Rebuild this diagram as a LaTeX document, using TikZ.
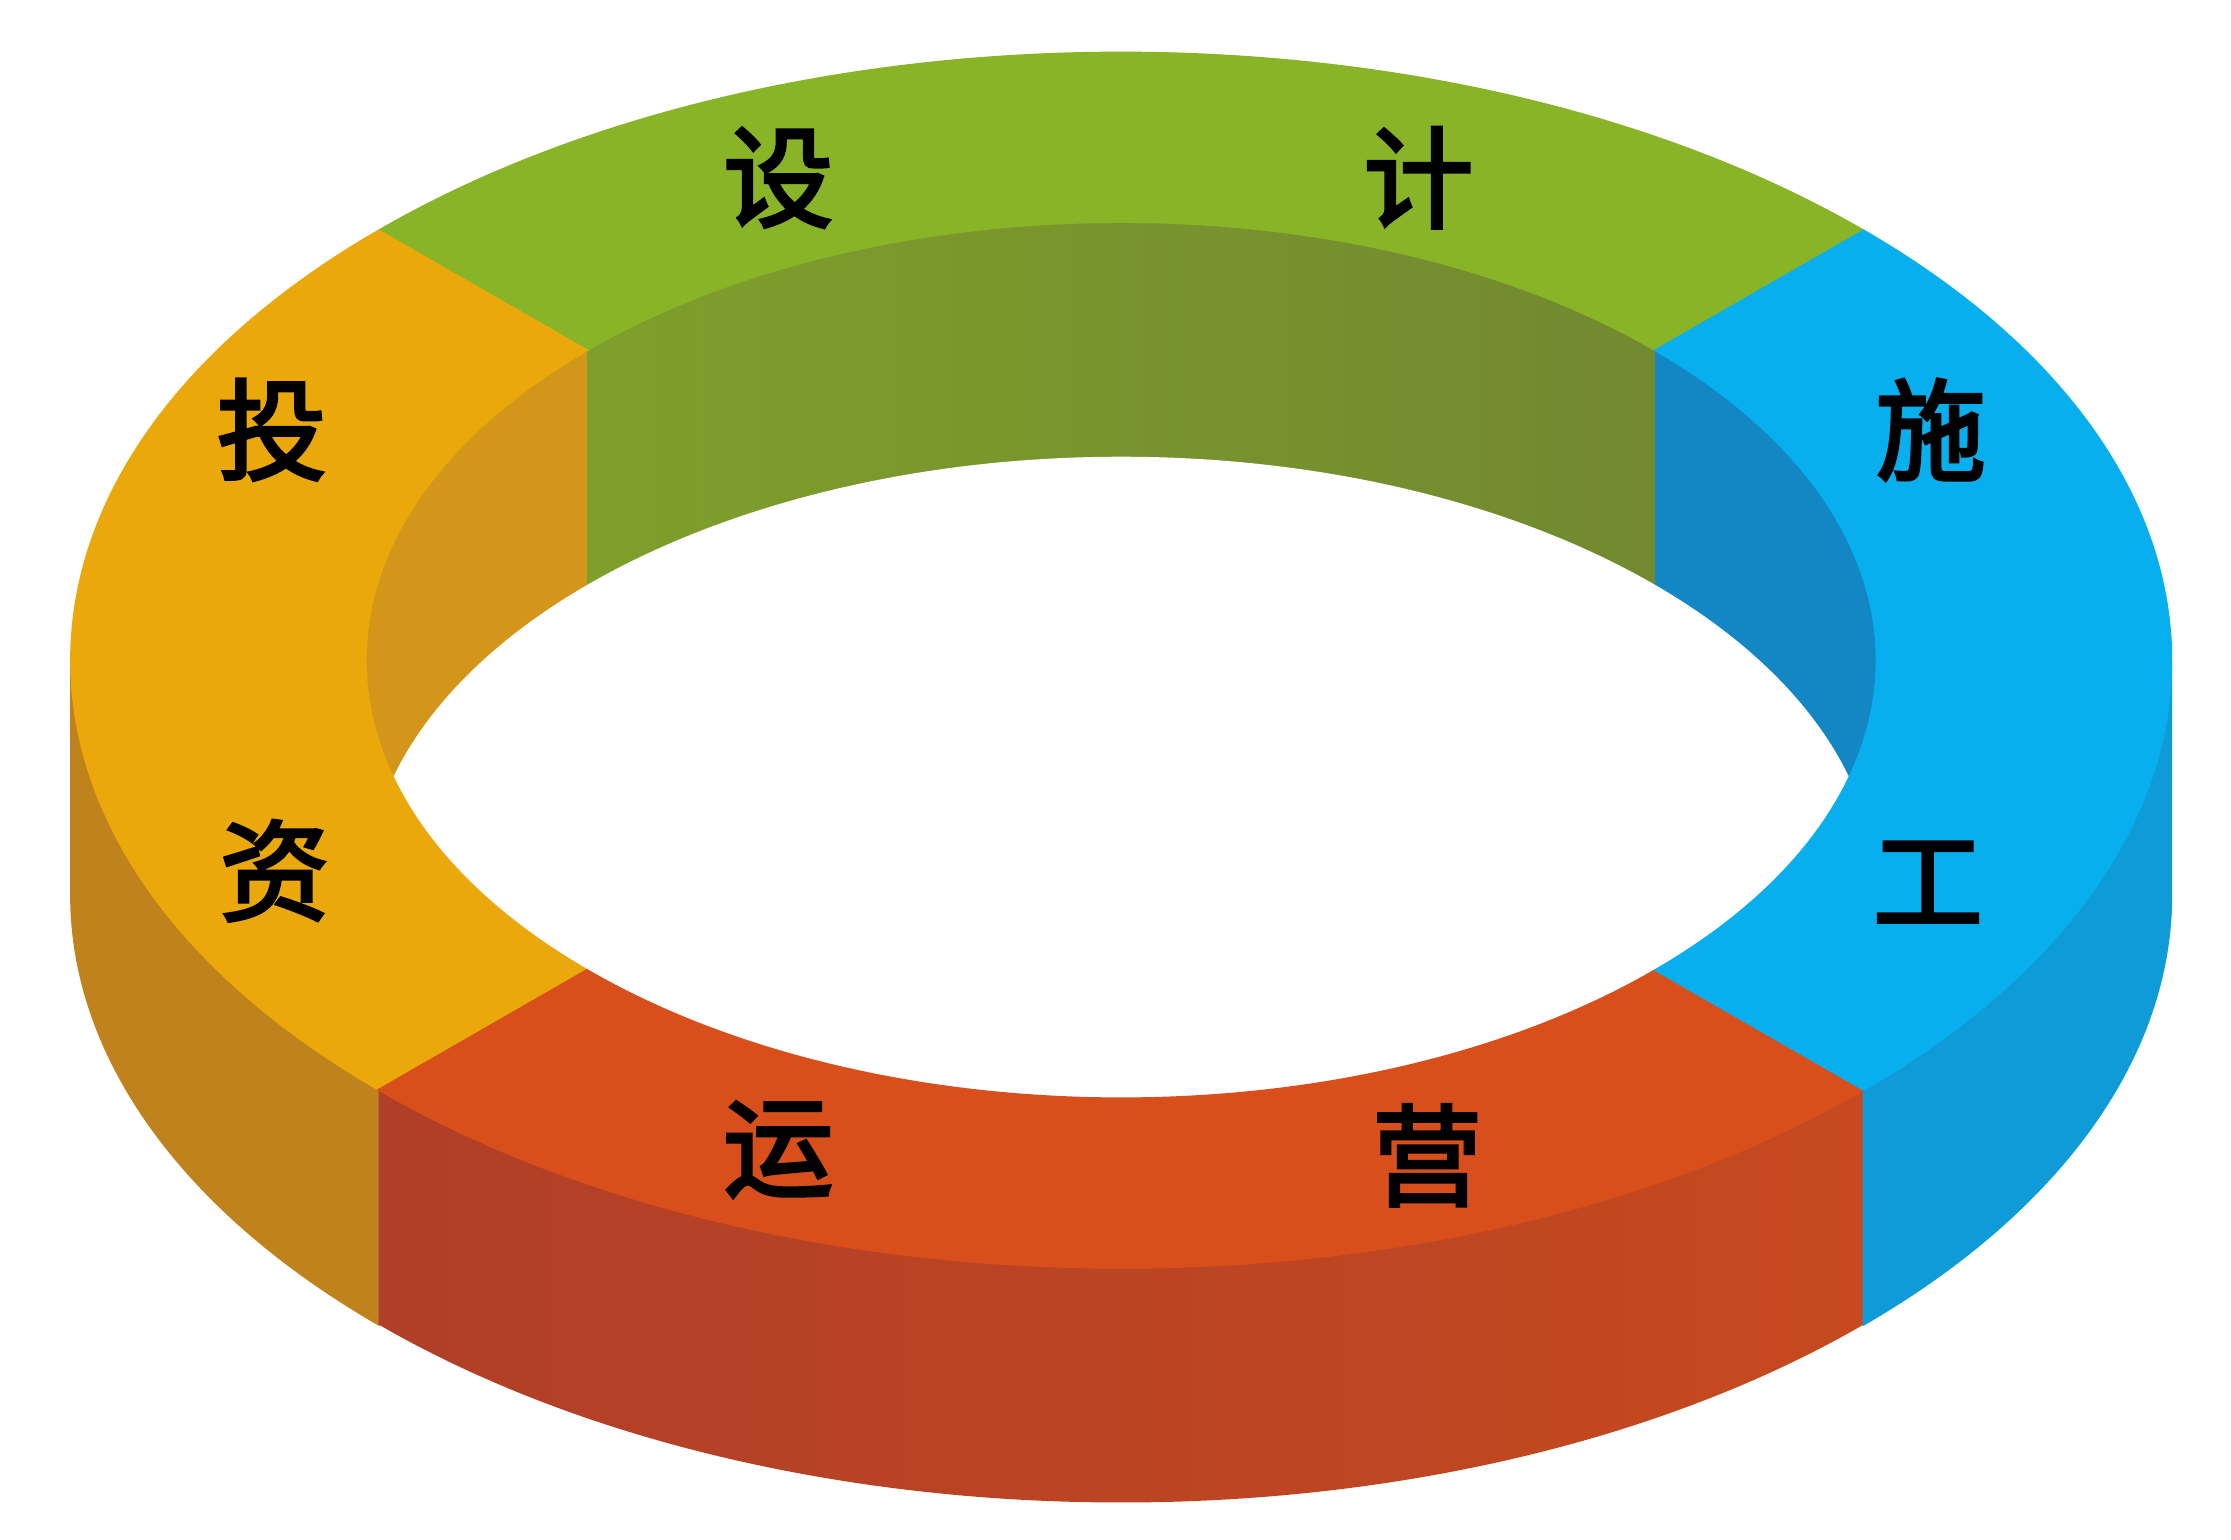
\documentclass[tikz,border=0pt]{standalone}
\usepackage{fontspec}
\newfontfamily\cjk[FakeBold=3]{Noto Sans CJK SC}
\usepackage{xcolor}
\usetikzlibrary{positioning}

\definecolor{greenTop}{HTML}{8AB427}
\definecolor{greenInL}{HTML}{7E9F2B}
\definecolor{greenInR}{HTML}{728930}
\definecolor{blueTop}{HTML}{07AFEE}
\definecolor{blueIn}{HTML}{1386C4}
\definecolor{blueSide}{HTML}{0E9BD8}
\definecolor{redTop}{HTML}{D84F1C}
\definecolor{redSideL}{HTML}{B03F28}
\definecolor{redSideR}{HTML}{C6491F}
\definecolor{yellowTop}{HTML}{EBA80A}
\definecolor{yellowIn}{HTML}{D4961A}
\definecolor{yellowSide}{HTML}{BF821C}

\begin{document}
\begin{tikzpicture}[x=0.01cm, y=0.01cm,
    word/.style={font=\cjk\fontsize{22}{22}\selectfont, inner sep=0pt, text=black}]

    \useasboundingbox (-788,-618) rectangle (780,464);

    % --- Outer side wall (front half) ---
    \filldraw[yellowSide] (180:738 and 427) arc[start angle=180, end angle=225, x radius=738, y radius=427]
        -- ++(0,-165) arc[start angle=225, end angle=180, x radius=738, y radius=427] -- cycle;
    \shade[left color=redSideL, right color=redSideR] (225:738 and 427) arc[start angle=225, end angle=315, x radius=738, y radius=427]
        -- ++(0,-165) arc[start angle=315, end angle=225, x radius=738, y radius=427] -- cycle;
    \filldraw[blueSide] (315:738 and 427) arc[start angle=315, end angle=360, x radius=738, y radius=427]
        -- ++(0,-165) arc[start angle=360, end angle=315, x radius=738, y radius=427] -- cycle;

    % --- Inner wall seen through the hole ---
    \begin{scope}
        \clip (0,0) ellipse [x radius=531, y radius=308];
        \fill[yellowIn] (-600,-400) rectangle (-375.5,400);
        \shade[left color=greenInL, right color=greenInR] (-375.5,-400) rectangle (375.5,400);
        \fill[blueIn] (375.5,-400) rectangle (600,400);
        % hole
        \fill[white] (0,-165) ellipse [x radius=531, y radius=308];
    \end{scope}

    % --- Top face segments ---
    \filldraw[greenTop] (45:738 and 427) arc[start angle=45, end angle=135, x radius=738, y radius=427]
        -- (135:531 and 308) arc[start angle=135, end angle=45, x radius=531, y radius=308] -- cycle;
    \filldraw[yellowTop] (135:738 and 427) arc[start angle=135, end angle=225, x radius=738, y radius=427]
        -- (225:531 and 308) arc[start angle=225, end angle=135, x radius=531, y radius=308] -- cycle;
    \filldraw[redTop] (225:738 and 427) arc[start angle=225, end angle=315, x radius=738, y radius=427]
        -- (315:531 and 308) arc[start angle=315, end angle=225, x radius=531, y radius=308] -- cycle;
    \filldraw[blueTop] (-45:738 and 427) arc[start angle=-45, end angle=45, x radius=738, y radius=427]
        -- (45:531 and 308) arc[start angle=45, end angle=-45, x radius=531, y radius=308] -- cycle;

    % --- Labels ---
    \node[word] (she)  at (-241, 339) {设};
    \node[word] (ji)   at (209, 339)  {计};
    \node[word] (shi)  at (569, 162)  {施};
    \node[word] (gong) at (567, -156) {工};
    \node[word] (yun)  at (-241, -344) {运};
    \node[word] (ying) at (215, -348) {营};
    \node[word] (tou)  at (-597, 162) {投};
    \node[word] (zi)   at (-595, -148) {资};

\end{tikzpicture}
\end{document}
